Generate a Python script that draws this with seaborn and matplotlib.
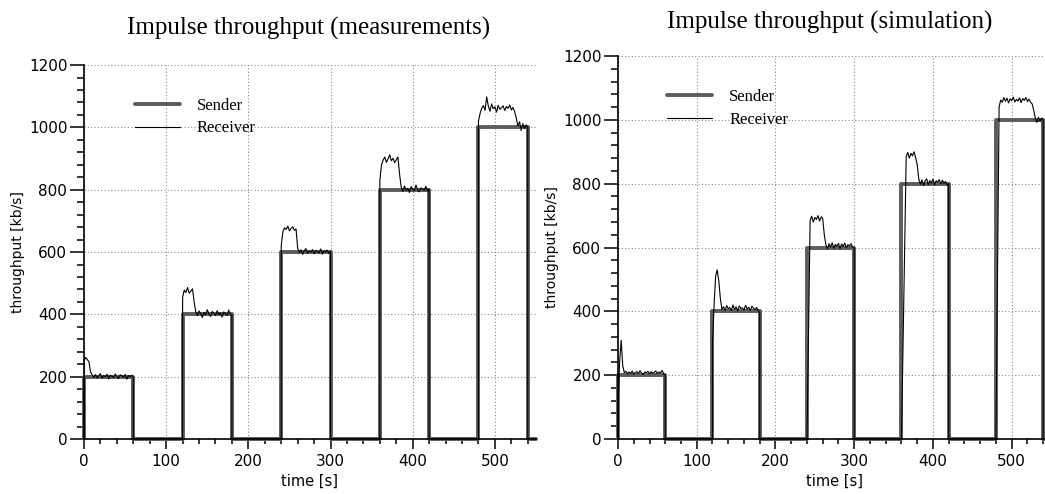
import numpy as np
import pandas as pd
import seaborn as sns
import matplotlib.pyplot as plt
from matplotlib.ticker import MultipleLocator

# sender impulses (kb/s), one level per 60 s interval
sender_t = [0, 0, 60, 120, 180, 240, 300, 360, 420, 480, 540, 550]
sender_rate = [0, 200, 0, 400, 0, 600, 0, 800, 0, 1000, 0, 0]

# receiver samples every 2 s inside each burst
burst_start = [0, 120, 240, 360, 480]
meas_rx = [
    [250, 262, 255, 248, 215, 205, 198, 207, 196, 203, 210, 195, 204, 199, 208, 193,
     205, 201, 197, 209, 200, 194, 206, 203, 198, 207, 192, 204, 200, 205, 198],
    [455, 478, 470, 486, 468, 475, 482, 440, 408, 396, 411, 402, 390, 407, 398, 415,
     401, 393, 409, 404, 396, 412, 399, 405, 391, 408, 402, 397, 414, 400, 398],
    [620, 665, 678, 672, 683, 668, 676, 681, 670, 674, 612, 598, 607, 592, 604, 611,
     596, 603, 599, 608, 594, 605, 601, 597, 610, 593, 604, 600, 606, 595, 602],
    [830, 880, 895, 905, 888, 899, 912, 893, 901, 887, 896, 905, 850, 808, 795, 812,
     799, 804, 791, 810, 802, 797, 815, 800, 793, 806, 801, 798, 811, 795, 803],
    [1020, 1045, 1062, 1070, 1055, 1098, 1068, 1052, 1075, 1060, 1066, 1049, 1071, 1058, 1063, 1069,
     1054, 1067, 1061, 1072, 1056, 1064, 1050, 1030, 1005, 1018, 990, 1012, 996, 1008, 1000],
]
sim_rx = [
    [100, 240, 310, 230, 208, 212, 204, 210, 206, 213, 203, 209, 211, 205, 214, 207,
     202, 210, 208, 212, 204, 211, 206, 209, 213, 205, 210, 207, 215, 204, 200],
    [300, 420, 510, 530, 495, 440, 405, 415, 402, 418, 408, 412, 403, 420, 406, 414,
     401, 417, 409, 411, 404, 419, 407, 413, 402, 416, 410, 405, 412, 403, 395],
    [0, 340, 685, 698, 680, 694, 688, 700, 683, 696, 690, 640, 608, 596, 612, 601,
     615, 598, 610, 604, 613, 597, 611, 603, 614, 599, 609, 605, 612, 600, 598],
    [0, 300, 620, 885, 898, 880, 895, 887, 900, 882, 860, 815, 798, 812, 794, 808,
     815, 797, 810, 802, 814, 796, 809, 805, 813, 799, 811, 801, 807, 795, 800],
    [0, 520, 1040, 1062, 1055, 1070, 1058, 1068, 1053, 1066, 1060, 1071, 1056, 1064, 1059, 1069,
     1054, 1067, 1061, 1070, 1057, 1065, 1055, 1050, 1030, 1005, 992, 1008, 995, 1006, 1000],
]
titles = ["Impulse throughput (measurements)", "Impulse throughput (simulation)"]


def receiver_frame(bursts):
    # build one continuous trace: 0 -> burst samples -> 0 for every impulse
    t, v = [], []
    for t0, vals in zip(burst_start, bursts):
        t += [t0] + list(t0 + 2 * np.arange(len(vals))) + [t0 + 60]
        v += [0] + vals + [0]
    return pd.DataFrame({"t": t, "v": v})


def draw_panel(ax, bursts, title_x, title_y, title):
    sender = pd.DataFrame({"t": sender_t, "v": sender_rate})
    rx = receiver_frame(bursts)
    sns.lineplot(data=sender, x="t", y="v", ax=ax, estimator=None, sort=False,
                 drawstyle="steps-post", color="#5c5c5c", lw=2.8, label="Sender",
                 clip_on=False, zorder=2)
    sns.lineplot(data=rx, x="t", y="v", ax=ax, estimator=None, sort=False,
                 color="black", lw=0.8, label="Receiver", zorder=3)

    ax.set_xlim(0, 550)
    ax.set_ylim(0, 1200)
    ax.xaxis.set_major_locator(MultipleLocator(100))
    ax.xaxis.set_minor_locator(MultipleLocator(20))
    ax.yaxis.set_major_locator(MultipleLocator(200))
    ax.yaxis.set_minor_locator(MultipleLocator(40))
    ax.tick_params(which="both", bottom=True, left=True, direction="out", color="black")
    ax.tick_params(axis="y", which="major", length=10, width=1.1, labelsize=11, pad=2)
    ax.tick_params(axis="y", which="minor", length=5, width=1.1)
    ax.tick_params(axis="x", which="major", length=7, width=1.1, labelsize=11, pad=4)
    ax.tick_params(axis="x", which="minor", length=3.5, width=1.1)
    ax.grid(True, which="major", color="#888888", ls=(0, (1, 2)), lw=0.8)
    for s in ["top", "right"]:
        ax.spines[s].set_visible(False)
    for s in ["left", "bottom"]:
        ax.spines[s].set_color("black")
        ax.spines[s].set_linewidth(1.2)
    ax.set_xlabel("time [s]", fontsize=10.5, labelpad=3)
    ax.set_ylabel("throughput [kb/s]", fontsize=10, labelpad=3)
    ax.legend(loc="upper left", bbox_to_anchor=(0.095, 0.935), frameon=False,
              borderpad=0, handlelength=2.7, handletextpad=1.0, labelspacing=0.4,
              prop={"family": "Liberation Serif", "size": 12})
    fig.text(title_x, title_y, title, ha="center", va="center",
             family="Liberation Serif", fontsize=18)


sns.set_theme(style="ticks")
plt.rcParams["font.family"] = ["DejaVu Sans"]
plt.rcParams["text.color"] = "black"
plt.rcParams["axes.labelcolor"] = "black"
plt.rcParams["xtick.color"] = "black"
plt.rcParams["ytick.color"] = "black"

fig = plt.figure(figsize=(10.45, 4.94), dpi=100)
ax1 = fig.add_axes([0.0804, 0.1113, 0.4325, 0.757])
ax2 = fig.add_axes([0.5914, 0.1113, 0.4144, 0.7753])

draw_panel(ax1, meas_rx, 309 / 1045, 1 - 28 / 494, titles[0])
draw_panel(ax2, sim_rx, 830 / 1045, 1 - 22 / 494, titles[1])

fig.savefig("out.png", dpi=100)
